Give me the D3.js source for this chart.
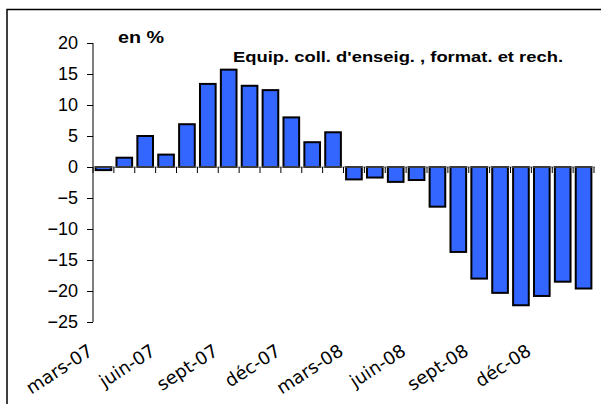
<!DOCTYPE html>
<html>
<head>
<meta charset="utf-8">
<script src="https://cdn.jsdelivr.net/npm/d3@7"></script>
<style>
  body { margin: 0; background: #fff; }
  svg { display: block; }
</style>
</head>
<body>
<div id="chart"></div>
<script>
// monthly categories, mars-07 to févr-09
var months = ["mars-07","avr-07","mai-07","juin-07","juil-07","août-07","sept-07","oct-07","nov-07","déc-07","janv-08","févr-08",
              "mars-08","avr-08","mai-08","juin-08","juil-08","août-08","sept-08","oct-08","nov-08","déc-08","janv-09","févr-09"];
var values = [-0.5, 1.5, 5.0, 2.0, 6.9, 13.4, 15.7, 13.1, 12.4, 8.0, 4.0, 5.6,
              -2.0, -1.7, -2.4, -2.1, -6.4, -13.7, -18.0, -20.3, -22.3, -20.8, -18.5, -19.6];
var yTicks = [20, 15, 10, 5, 0, -5, -10, -15, -20, -25];
var xLabelMonths = ["mars-07","juin-07","sept-07","déc-07","mars-08","juin-08","sept-08","déc-08"];

var W = 601, H = 404;
var plotLeft = 93, plotRight = 594, plotTop = 43, plotBottom = 322;

var svg = d3.select("#chart").append("svg")
    .attr("width", W)
    .attr("height", H);

// outer frame (runs off the right and bottom of the picture)
svg.append("rect")
    .attr("x", 7).attr("y", 9.5)
    .attr("width", 620).attr("height", 420)
    .attr("fill", "none")
    .attr("stroke", "#000")
    .attr("stroke-width", 1.5);

var x = d3.scaleBand()
    .domain(months)
    .range([plotLeft, plotRight])
    .paddingInner(0.25)
    .paddingOuter(0.125);

var y = d3.scaleLinear()
    .domain([-25, 20])
    .range([plotBottom, plotTop]);

var step = x.step();

// bars
svg.selectAll(".bar")
    .data(months)
  .enter().append("rect")
    .attr("class", "bar")
    .attr("x", function(d) { return x(d); })
    .attr("width", x.bandwidth())
    .attr("y", function(d, i) { return Math.min(y(values[i]), y(0)); })
    .attr("height", function(d, i) { return Math.abs(y(values[i]) - y(0)); })
    .attr("fill", "#3366ff")
    .attr("stroke", "#000")
    .attr("stroke-width", 2);

// y axis
var yAxis = svg.append("g")
    .attr("transform", "translate(" + plotLeft + ",0)")
    .call(d3.axisLeft(y).tickValues(yTicks).tickSize(6).tickPadding(9).tickFormat(d3.format("d")));
yAxis.select(".domain").attr("d", "M0," + y(20) + "V" + y(-25)).attr("stroke", "#000");
yAxis.selectAll(".tick line").attr("stroke", "#000");
yAxis.selectAll("text")
    .attr("font-family", "Liberation Sans, Arial, sans-serif")
    .attr("font-size", "18px")
    .attr("fill", "#000");

// x axis on the zero line, ticks at band boundaries
var bounds = d3.range(months.length + 1).map(function(i) { return x(months[0]) - step * x.paddingInner() / 2 + i * step; });
svg.append("line")
    .attr("x1", plotLeft).attr("x2", plotRight + 1)
    .attr("y1", y(0)).attr("y2", y(0))
    .attr("stroke", "#777")
    .attr("stroke-width", 1);
svg.selectAll(".xtick")
    .data(bounds)
  .enter().append("line")
    .attr("class", "xtick")
    .attr("x1", function(d) { return d; })
    .attr("x2", function(d) { return d; })
    .attr("y1", y(0))
    .attr("y2", y(0) + 6)
    .attr("stroke", "#000");

// rotated month labels, anchored at the left edge of their month
svg.selectAll(".xlab")
    .data(xLabelMonths)
  .enter().append("text")
    .attr("class", "xlab")
    .attr("transform", function(d) {
      var bx = bounds[months.indexOf(d)];
      return "translate(" + (bx + 1) + ",354) rotate(-33)";
    })
    .attr("text-anchor", "end")
    .attr("font-family", "DejaVu Sans, Verdana, sans-serif")
    .attr("font-size", "18px")
    .attr("fill", "#000")
    .text(function(d) { return d; });

// titles
svg.append("text")
    .attr("x", 118).attr("y", 43)
    .attr("font-family", "Liberation Sans, Arial, sans-serif")
    .attr("font-weight", "bold")
    .attr("font-size", "16px")
    .attr("textLength", 46)
    .attr("lengthAdjust", "spacingAndGlyphs")
    .text("en %");

svg.append("text")
    .attr("x", 233).attr("y", 62)
    .attr("font-family", "Liberation Sans, Arial, sans-serif")
    .attr("font-weight", "bold")
    .attr("font-size", "15.5px")
    .attr("textLength", 330)
    .attr("lengthAdjust", "spacingAndGlyphs")
    .text("Equip. coll. d'enseig. , format. et rech.");
</script>
</body>
</html>
